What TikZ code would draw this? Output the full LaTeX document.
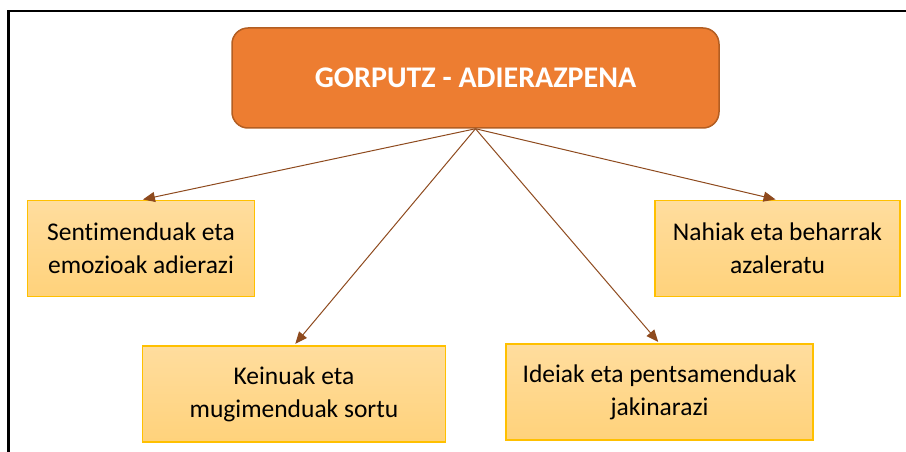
\documentclass[tikz,border=0pt]{standalone}
\usepackage{fontspec}
\setmainfont{Carlito}[Ligatures={NoCommon,NoRare}]
\usetikzlibrary{positioning,calc,arrows.meta}
\usepackage{xcolor}
\definecolor{orangefill}{HTML}{ED7D31}
\definecolor{orangeline}{HTML}{B35E22}
\definecolor{leaftop}{HTML}{FFDD9E}
\definecolor{leafbottom}{HTML}{FFD27B}
\definecolor{leafline}{HTML}{FFC000}
\definecolor{linkbrown}{HTML}{8E4A1E}

\begin{document}
\begin{tikzpicture}[
    x=1pt, y=-1pt,
    topic/.style={draw=orangeline, line width=1.5pt, fill=orangefill, rounded corners=16pt, minimum width=487pt, minimum height=100pt, text=white, font=\fontsize{30}{35}\selectfont\bfseries}, % main box
    leaf/.style={draw=leafline, line width=1.2pt, top color=leaftop, bottom color=leafbottom, minimum height=96pt, align=center, inner sep=0pt, font=\fontsize{25.5}{33}\selectfont}, % yellow boxes
    link/.style={draw=linkbrown, line width=1pt, -{Triangle[length=12pt,width=10pt]}, shorten >=2pt} % connectors
]
\useasboundingbox (0,0) rectangle (906,452);
% frame of the page
\draw[line width=2.5pt] (8.5,452) -- (8.5,11) -- (906,11);

\node[topic] (main) at (475.5,78) {GORPUTZ - ADIERAZPENA};

\node[leaf, minimum width=227pt] (feel) at (141,248.5) {Sentimenduak eta\\emozioak adierazi};
\node[leaf, minimum width=303pt] (gest) at (294,394) {Keinuak eta\\mugimenduak sortu};
\node[leaf, minimum width=307pt] (idea) at (659.5,392) {Ideiak eta pentsamenduak\\jakinarazi};
\node[leaf, minimum width=245pt] (need) at (777.5,248.5) {Nahiak eta beharrak\\azaleratu};

\draw[link] (main.south) -- (feel.north);
\draw[link] (main.south) -- (gest.north);
\draw[link] (main.south) -- (idea.north);
\draw[link] (main.south) -- (need.north);
\end{tikzpicture}
\end{document}
